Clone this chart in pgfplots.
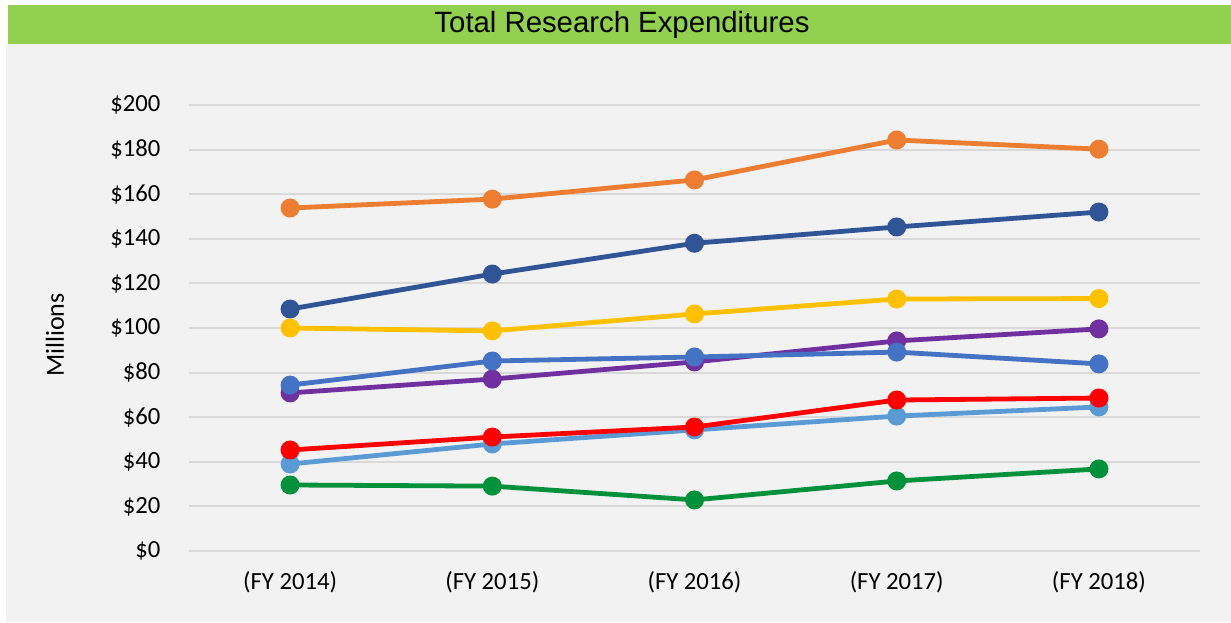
\documentclass[border=0pt]{standalone}
\usepackage{pgfplots}
\pgfplotsset{compat=1.18}
\usepackage{fontspec}
\setmainfont{Carlito}
\newfontfamily\titlefont{Liberation Sans}

\definecolor{bgc}{HTML}{F2F2F2}
\definecolor{titlec}{HTML}{92D050}
\definecolor{gridc}{HTML}{D9D9D9}
\definecolor{c1}{HTML}{ED7D31}
\definecolor{c2}{HTML}{2F5597}
\definecolor{c3}{HTML}{FFC000}
\definecolor{c4}{HTML}{7030A0}
\definecolor{c5}{HTML}{4472C4}
\definecolor{c6}{HTML}{5B9BD5}
\definecolor{c7}{HTML}{FF0000}
\definecolor{c8}{HTML}{00913A}

\begin{document}
\begin{tikzpicture}
% canvas, grey panel and title bar (1 px of the reference = 0.75pt)
\begin{scope}[x=0.75pt,y=0.75pt]
\fill[white] (0,0) rectangle (1231,622);
\fill[bgc] (6,0) rectangle (1231,578);
\fill[titlec] (8,578) rectangle (1231,617);
\node[font=\titlefont\fontsize{22}{24}\selectfont] at (622,597.5) {Total Research Expenditures};
\node[rotate=90, font=\fontsize{19.5}{22}\selectfont] at (55,287) {Millions};
\coordinate (A) at (189,71);
\end{scope}

\begin{axis}[
  at={(A)}, anchor=south west,
  scale only axis, width=758.25pt, height=334.5pt,
  xmin=-0.5, xmax=4.5, ymin=0, ymax=200,
  xtick={0,1,2,3,4},
  xticklabels={(FY 2014),(FY 2015),(FY 2016),(FY 2017),(FY 2018)},
  ytick={0,20,...,200},
  yticklabel={\$\pgfmathprintnumber{\tick}},
  /pgf/number format/assume math mode=true,
  tick label style={font=\fontsize{18.5}{21}\selectfont, text=black},
  xticklabel style={yshift=-12pt},
  yticklabel style={xshift=-18pt},
  axis line style={draw=none},
  major tick length=0pt,
  ymajorgrids, grid style={gridc, line width=1.5pt},
  every axis plot/.append style={line width=3.6pt, mark=*, mark size=5.3pt},
  clip=false,
]
\addplot[c1, mark options={fill=c1}] coordinates {(0,153.8) (1,157.8) (2,166.4) (3,184.3) (4,180.2)};
\addplot[c2, mark options={fill=c2}] coordinates {(0,108.5) (1,124.2) (2,138.0) (3,145.3) (4,152.0)};
\addplot[c3, mark options={fill=c3}] coordinates {(0,100.0) (1,98.7) (2,106.3) (3,113.0) (4,113.2)};
\addplot[c4, mark options={fill=c4}] coordinates {(0,70.9) (1,77.1) (2,84.8) (3,94.2) (4,99.6)};
\addplot[c5, mark options={fill=c5}] coordinates {(0,74.4) (1,85.2) (2,87.0) (3,89.2) (4,83.9)};
\addplot[c6, mark options={fill=c6}] coordinates {(0,39.0) (1,48.0) (2,54.3) (3,60.5) (4,64.6)};
\addplot[c7, mark options={fill=c7}] coordinates {(0,45.3) (1,51.1) (2,55.6) (3,67.7) (4,68.6)};
\addplot[c8, mark options={fill=c8}] coordinates {(0,29.6) (1,29.1) (2,22.9) (3,31.4) (4,36.8)};
\end{axis}
\end{tikzpicture}
\end{document}
